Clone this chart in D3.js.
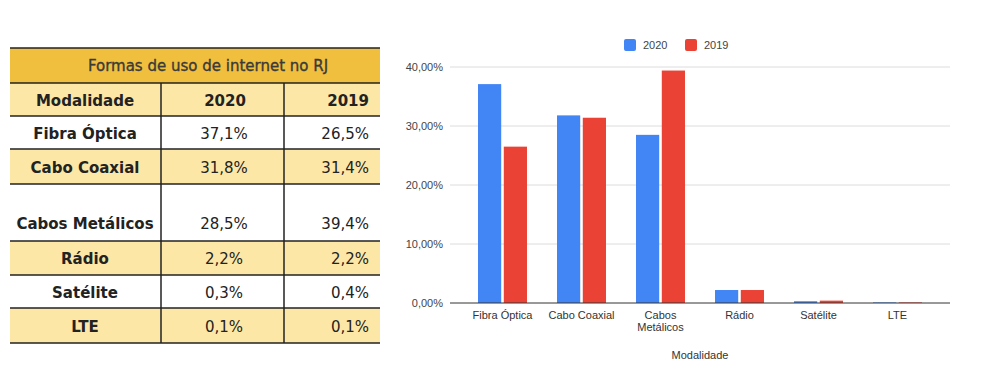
<!DOCTYPE html>
<html>
<head>
<meta charset="utf-8">
<script src="https://cdn.jsdelivr.net/npm/d3@7"></script>
<style>
  body { margin: 0; background: #fff; }
  svg { display: block; }
</style>
</head>
<body>
<svg id="chart" width="1000" height="390"></svg>
<script>
// data
const categories = ['Fibra Óptica', 'Cabo Coaxial', 'Cabos Metálicos', 'Rádio', 'Satélite', 'LTE'];
const years = ['2020', '2019'];
const values2020 = [37.1, 31.8, 28.5, 2.2, 0.3, 0.1];
const values2019 = [26.5, 31.4, 39.4, 2.2, 0.4, 0.1];
const yTicks = [0, 10, 20, 30, 40];

const tableTitle = 'Formas de uso de internet no RJ';
const tableHeader = ['Modalidade', '2020', '2019'];

const colours = { '2020': '#4285f4', '2019': '#ea4335' };
const fmtTable = v => d3.format('.1f')(v).replace('.', ',') + '%';
const fmtAxis = v => d3.format('.2f')(v).replace('.', ',') + '%';

const svg = d3.select('#chart');

// ---- table ----
const table = svg.append('g').attr('class', 'table');
const tx0 = 10, tx1 = 380;
const colX = [10, 161, 284, 380];
// row boundaries (title, header, then one per category)
const rowY = [48, 83, 116, 149, 184, 241, 275, 308, 343];
const light = '#fde7a6';

table.append('rect')
  .attr('x', tx0).attr('y', rowY[0])
  .attr('width', tx1 - tx0).attr('height', rowY[1] - rowY[0])
  .attr('fill', '#f1bf3e');
table.append('rect')
  .attr('x', tx0).attr('y', rowY[1])
  .attr('width', tx1 - tx0).attr('height', rowY[2] - rowY[1])
  .attr('fill', light);

categories.forEach((c, i) => {
  table.append('rect')
    .attr('x', tx0).attr('y', rowY[i + 2])
    .attr('width', tx1 - tx0).attr('height', rowY[i + 3] - rowY[i + 2])
    .attr('fill', i % 2 === 1 ? light : '#fff');
});

table.selectAll('line.h')
  .data(rowY)
  .enter()
  .append('line')
  .attr('x1', tx0).attr('x2', tx1)
  .attr('y1', d => d).attr('y2', d => d)
  .attr('stroke', '#222')
  .attr('stroke-width', 1.5);

table.selectAll('line.v')
  .data([colX[1], colX[2]])
  .enter()
  .append('line')
  .attr('x1', d => d).attr('x2', d => d)
  .attr('y1', rowY[1]).attr('y2', rowY[rowY.length - 1])
  .attr('stroke', '#222')
  .attr('stroke-width', 1.5);

const tfont = '"DejaVu Sans", Verdana, sans-serif';

table.append('text')
  .attr('x', (tx0 + tx1) / 2 + 13)
  .attr('y', (rowY[0] + rowY[1]) / 2 + 5)
  .attr('text-anchor', 'middle')
  .attr('font-family', tfont)
  .attr('font-size', 15)
  .attr('fill', '#3a3a3a')
  .attr('stroke', '#3a3a3a')
  .attr('stroke-width', 0.35)
  .text(tableTitle);

const headY = (rowY[1] + rowY[2]) / 2 + 6;
table.append('text').attr('x', 85).attr('y', headY).attr('text-anchor', 'middle')
  .attr('font-family', tfont).attr('font-weight', 'bold').attr('font-size', 15).attr('fill', '#222')
  .text(tableHeader[0]);
table.append('text').attr('x', 225).attr('y', headY).attr('text-anchor', 'middle')
  .attr('font-family', tfont).attr('font-weight', 'bold').attr('font-size', 15).attr('fill', '#222')
  .text(tableHeader[1]);
table.append('text').attr('x', 369).attr('y', headY).attr('text-anchor', 'end')
  .attr('font-family', tfont).attr('font-weight', 'bold').attr('font-size', 15).attr('fill', '#222')
  .text(tableHeader[2]);

categories.forEach((c, i) => {
  const top = rowY[i + 2], bot = rowY[i + 3];
  // the tall row keeps its text low
  const cy = (bot - top) > 45 ? bot - 12 : (top + bot) / 2 + 6;
  table.append('text').attr('x', 85).attr('y', cy).attr('text-anchor', 'middle')
    .attr('font-family', tfont).attr('font-weight', 'bold').attr('font-size', 15).attr('fill', '#222')
    .text(c);
  table.append('text').attr('x', 224).attr('y', cy).attr('text-anchor', 'middle')
    .attr('font-family', tfont).attr('font-size', 15).attr('fill', '#222')
    .text(fmtTable(values2020[i]));
  table.append('text').attr('x', 369).attr('y', cy).attr('text-anchor', 'end')
    .attr('font-family', tfont).attr('font-size', 15).attr('fill', '#222')
    .text(fmtTable(values2019[i]));
});

// ---- bar chart ----
const cfont = '"Liberation Sans", Arial, sans-serif';
const plotLeft = 450, plotRight = 950;
const y = d3.scaleLinear().domain([0, 40]).range([303, 67]);
const x0 = d3.scaleBand().domain(categories).range([463, 937]).paddingInner(0.38).paddingOuter(0.19);
const x1 = d3.scaleBand().domain(years).range([0, x0.bandwidth()]).paddingInner(0.1);

const chart = svg.append('g').attr('class', 'barchart');

chart.append('g')
  .selectAll('line')
  .data(yTicks.filter(t => t > 0))
  .enter()
  .append('line')
  .attr('x1', plotLeft).attr('x2', plotRight)
  .attr('y1', d => y(d)).attr('y2', d => y(d))
  .attr('stroke', '#dcdcdc')
  .attr('stroke-width', 1);

chart.append('g')
  .selectAll('text')
  .data(yTicks)
  .enter()
  .append('text')
  .attr('x', 443)
  .attr('y', d => y(d) + 4)
  .attr('text-anchor', 'end')
  .attr('font-family', cfont)
  .attr('font-size', 11)
  .attr('fill', '#444')
  .text(fmtAxis);

const series = { '2020': values2020, '2019': values2019 };
const groups = chart.append('g')
  .selectAll('g')
  .data(categories)
  .enter()
  .append('g')
  .attr('transform', d => `translate(${x0(d)},0)`);

groups.selectAll('rect')
  .data((d, i) => years.map(yr => ({ yr, v: series[yr][i] })))
  .enter()
  .append('rect')
  .attr('x', d => x1(d.yr))
  .attr('width', x1.bandwidth())
  .attr('y', d => y(d.v))
  .attr('height', d => y(0) - y(d.v))
  .attr('fill', d => colours[d.yr]);

chart.append('line')
  .attr('x1', plotLeft).attr('x2', plotRight)
  .attr('y1', y(0)).attr('y2', y(0))
  .attr('stroke', '#333')
  .attr('stroke-width', 1);

// category labels, wrapped where the reference wraps
const xLabels = chart.append('g')
  .selectAll('text')
  .data(categories)
  .enter()
  .append('text')
  .attr('x', d => x0(d) + x0.bandwidth() / 2)
  .attr('y', 319)
  .attr('text-anchor', 'middle')
  .attr('font-family', cfont)
  .attr('font-size', 11)
  .attr('fill', '#333');

xLabels.each(function (d) {
  const parts = d === 'Cabos Metálicos' ? d.split(' ') : [d];
  d3.select(this).selectAll('tspan')
    .data(parts)
    .enter()
    .append('tspan')
    .attr('x', x0(d) + x0.bandwidth() / 2)
    .attr('dy', (p, j) => (j === 0 ? 0 : 12))
    .text(p => p);
});

chart.append('text')
  .attr('x', (plotLeft + plotRight) / 2)
  .attr('y', 359)
  .attr('text-anchor', 'middle')
  .attr('font-family', cfont)
  .attr('font-size', 11)
  .attr('fill', '#333')
  .text('Modalidade');

// legend
const legendX = [624, 685];
const legend = chart.append('g')
  .selectAll('g')
  .data(years)
  .enter()
  .append('g')
  .attr('transform', (d, i) => `translate(${legendX[i]},39)`);

legend.append('rect')
  .attr('width', 12).attr('height', 12).attr('rx', 2)
  .attr('fill', d => colours[d]);
legend.append('text')
  .attr('x', 19).attr('y', 10)
  .attr('font-family', cfont)
  .attr('font-size', 11)
  .attr('fill', '#444')
  .text(d => d);
</script>
</body>
</html>
